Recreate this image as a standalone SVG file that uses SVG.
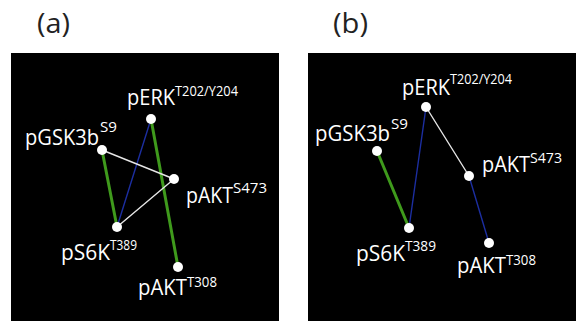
<svg xmlns="http://www.w3.org/2000/svg" width="576" height="321" viewBox="0 0 576 321">
  <style>
    .panel { fill: #000; }
    .tag { font-family: "Open Sans", "Noto Sans", sans-serif; font-size: 27px; fill: #222; }
    .lbl { font-family: "Open Sans", "Noto Sans", sans-serif; font-size: 22px; fill: #fff; }
    .sup { font-size: 15px; }
    .node { fill: #fff; }
    .green { stroke: #3f9a1c; stroke-width: 3; stroke-linecap: round; }
    .blue { stroke: #1c2ea0; stroke-width: 1.4; stroke-linecap: round; }
    .white { stroke: #e6e6e6; stroke-width: 1.4; stroke-linecap: round; }
  </style>

  <rect class="panel" x="11" y="53" width="268" height="268"/>
  <rect class="panel" x="308" y="53" width="268" height="268"/>
  <text class="tag" x="37" y="33" textLength="33" lengthAdjust="spacingAndGlyphs">(a)</text>
  <text class="tag" x="333" y="33" textLength="35" lengthAdjust="spacingAndGlyphs">(b)</text>

  <!-- panel (a) edges -->
  <g id="edges-a">
    <line class="green" x1="102" y1="150" x2="117" y2="227"/>
    <line class="blue" x1="151" y1="119" x2="117" y2="227"/>
    <line class="green" x1="151" y1="119" x2="178" y2="267"/>
    <line class="white" x1="102" y1="150" x2="174" y2="179"/>
    <line class="white" x1="174" y1="179" x2="117" y2="227"/>
  </g>

  <!-- panel (a) nodes: label = name + raised site -->
  <g id="a-perk">
    <circle class="node" cx="151" cy="119" r="5"/>
    <text class="lbl"><tspan x="127" y="105" textLength="48" lengthAdjust="spacingAndGlyphs">pERK</tspan><tspan class="sup" x="175" y="96" textLength="63" lengthAdjust="spacingAndGlyphs">T202/Y204</tspan></text>
  </g>
  <g id="a-pgsk3b">
    <circle class="node" cx="102" cy="150" r="5"/>
    <text class="lbl"><tspan x="25" y="145" textLength="74" lengthAdjust="spacingAndGlyphs">pGSK3b</tspan><tspan class="sup" x="100" y="132" textLength="17" lengthAdjust="spacingAndGlyphs">S9</tspan></text>
  </g>
  <g id="a-pakt-s473">
    <circle class="node" cx="174" cy="179" r="5"/>
    <text class="lbl"><tspan x="186" y="203" textLength="47" lengthAdjust="spacingAndGlyphs">pAKT</tspan><tspan class="sup" x="233" y="193" textLength="34" lengthAdjust="spacingAndGlyphs">S473</tspan></text>
  </g>
  <g id="a-ps6k">
    <circle class="node" cx="117" cy="227" r="5"/>
    <text class="lbl"><tspan x="61" y="260" textLength="49" lengthAdjust="spacingAndGlyphs">pS6K</tspan><tspan class="sup" x="110" y="250" textLength="27" lengthAdjust="spacingAndGlyphs">T389</tspan></text>
  </g>
  <g id="a-pakt-t308">
    <circle class="node" cx="178" cy="267" r="5"/>
    <text class="lbl"><tspan x="138" y="295" textLength="49" lengthAdjust="spacingAndGlyphs">pAKT</tspan><tspan class="sup" x="187" y="287" textLength="30" lengthAdjust="spacingAndGlyphs">T308</tspan></text>
  </g>

  <!-- panel (b) edges -->
  <g id="edges-b">
    <line class="green" x1="377" y1="151" x2="409" y2="228"/>
    <line class="blue" x1="409" y1="228" x2="426" y2="107"/>
    <line class="white" x1="426" y1="107" x2="469" y2="176"/>
    <line class="blue" x1="469" y1="176" x2="489" y2="243"/>
  </g>

  <!-- panel (b) nodes -->
  <g id="b-perk">
    <circle class="node" cx="426" cy="107" r="5"/>
    <text class="lbl"><tspan x="402" y="95" textLength="48" lengthAdjust="spacingAndGlyphs">pERK</tspan><tspan class="sup" x="450" y="84" textLength="62" lengthAdjust="spacingAndGlyphs">T202/Y204</tspan></text>
  </g>
  <g id="b-pgsk3b">
    <circle class="node" cx="377" cy="151" r="5"/>
    <text class="lbl"><tspan x="315" y="141" textLength="75" lengthAdjust="spacingAndGlyphs">pGSK3b</tspan><tspan class="sup" x="391" y="129" textLength="17" lengthAdjust="spacingAndGlyphs">S9</tspan></text>
  </g>
  <g id="b-pakt-s473">
    <circle class="node" cx="469" cy="176" r="5"/>
    <text class="lbl"><tspan x="482" y="172" textLength="48" lengthAdjust="spacingAndGlyphs">pAKT</tspan><tspan class="sup" x="530" y="163" textLength="32" lengthAdjust="spacingAndGlyphs">S473</tspan></text>
  </g>
  <g id="b-ps6k">
    <circle class="node" cx="409" cy="228" r="5"/>
    <text class="lbl"><tspan x="356" y="261" textLength="49" lengthAdjust="spacingAndGlyphs">pS6K</tspan><tspan class="sup" x="405" y="251" textLength="31" lengthAdjust="spacingAndGlyphs">T389</tspan></text>
  </g>
  <g id="b-pakt-t308">
    <circle class="node" cx="489" cy="243" r="5"/>
    <text class="lbl"><tspan x="457" y="273" textLength="49" lengthAdjust="spacingAndGlyphs">pAKT</tspan><tspan class="sup" x="506" y="265" textLength="30" lengthAdjust="spacingAndGlyphs">T308</tspan></text>
  </g>
</svg>
